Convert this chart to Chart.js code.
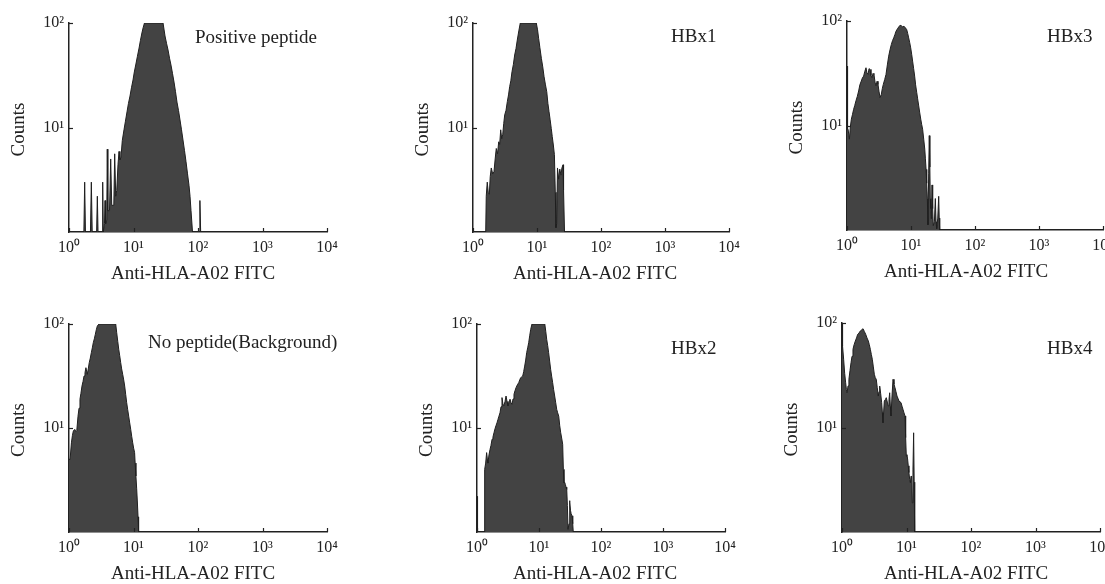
<!DOCTYPE html>
<html>
<head>
<meta charset="utf-8">
<script src="https://cdn.jsdelivr.net/npm/chart.js@4.4.1/dist/chart.umd.min.js"></script>
<style>
  body { margin: 0; background: #fff; }
  #wrap { position: relative; width: 1105px; height: 584px; overflow: hidden; }
  #wrap canvas { position: absolute; }
</style>
</head>
<body>
<div id="wrap"></div>
<script>
// Flow cytometry histograms: counts vs Anti-HLA-A02 FITC, log/log

const xTicks = [1, 10, 100, 1000, 10000];
const xTickLabels = ['10⁰', '10¹', '10²', '10³', '10⁴'];
const yTicks = [1, 10, 100];
const yTickLabels = ['', '10¹', '10²'];
const xTitle = 'Anti-HLA-A02 FITC';
const yTitle = 'Counts';

// [fluorescence, counts]
const positivePeptide = [
    [1, 1], [1.70, 1], [1.75, 3.0], [1.80, 1], [2.15, 1], [2.22, 3.0], [2.29, 1],
    [2.68, 1], [2.75, 2.2], [2.82, 1], [3.26, 1], [3.33, 3.0], [3.40, 1],
    [3.55, 1.2], [3.62, 2.0], [3.70, 1.2], [3.85, 1.3], [3.92, 6.2], [4.00, 1.6],
    [4.25, 1.6], [4.43, 5.0], [4.60, 1.8], [4.95, 1.8], [5.11, 5.6], [5.30, 2.2],
    [5.50, 2.5], [5.75, 4.4], [5.96, 5.9], [6.15, 4.9], [6.40, 5.2], [6.70, 7.5],
    [7.12, 9.5], [7.50, 11.5], [7.93, 14.1], [8.35, 17], [8.83, 20.0], [9.30, 24],
    [9.83, 28.5], [10.3, 34], [10.9, 40.5], [11.5, 48], [12.2, 57.6], [12.8, 68],
    [13.5, 80.2], [14.1, 90], [14.8, 100], [28.7, 100], [30.8, 75.1], [32.5, 64],
    [34.3, 55.2], [36.2, 46], [38.1, 39.6], [40.2, 33], [42.5, 27.2], [44.8, 22],
    [47.2, 17.5], [49.9, 14.5], [52.6, 11.8], [55.5, 9.5], [58.5, 7.6], [61.8, 6.0],
    [65.2, 4.7], [68.8, 3.6], [72.5, 2.8], [75.2, 2.2], [77.9, 1.6], [82.2, 1],
    [104, 1], [107, 2.0], [110, 1], [10000, 1]
];

const hbx1 = [
    [1, 1], [1.58, 1], [1.61, 2.2], [1.67, 3.0], [1.73, 2.4], [1.80, 2.3], [1.86, 3.4],
    [1.93, 4.1], [2.03, 3.6], [2.13, 3.8], [2.22, 5.0], [2.31, 6.3], [2.42, 5.6],
    [2.52, 7.3], [2.61, 6.9], [2.71, 9.5], [2.81, 7.8], [2.91, 8.5], [3.02, 10.9],
    [3.13, 13.2], [3.28, 14.6], [3.44, 17.7], [3.59, 20.5], [3.74, 24.6], [3.90, 28.0],
    [4.07, 34.2], [4.27, 40.0], [4.48, 49.4], [4.70, 57.0], [4.92, 68.7], [5.20, 84],
    [5.48, 100], [9.75, 100], [10.2, 86], [10.6, 71.4], [11.1, 58], [11.7, 45.9],
    [12.3, 38], [12.9, 30.6], [13.5, 26], [14.2, 22], [14.8, 17], [15.4, 14.2],
    [16.0, 12], [16.7, 9.8], [17.3, 8.2], [18.0, 6.8], [18.7, 5.5], [19.3, 2.4],
    [19.8, 1.1], [20.3, 1.2], [20.9, 4.1], [21.8, 3.2], [22.7, 4.0], [23.7, 3.5],
    [24.5, 4.1], [25.5, 4.4], [26.0, 2.5], [26.9, 1], [10000, 1]
];

const hbx3 = [
    [1.0, 37], [1.02, 9.2], [1.04, 9.2], [1.09, 7.4], [1.13, 9.8], [1.17, 11.5],
    [1.22, 12.8], [1.27, 14.3], [1.32, 15.5], [1.38, 17.2], [1.45, 19.0], [1.52, 21.4],
    [1.59, 24.5], [1.67, 26.6], [1.74, 28.5], [1.82, 29.7], [1.90, 33], [1.98, 35.7],
    [2.05, 32], [2.13, 30.8], [2.21, 35], [2.29, 34.4], [2.37, 30], [2.46, 28.6],
    [2.55, 31.5], [2.64, 30.8], [2.74, 26], [2.84, 23.9], [2.95, 26.5], [3.05, 24.7],
    [3.17, 21], [3.28, 18.5], [3.44, 19.9], [3.56, 22.5], [3.69, 24.7], [3.88, 27.5],
    [4.07, 30.8], [4.27, 38], [4.48, 46.1], [4.70, 53], [4.92, 59.4], [5.15, 65],
    [5.37, 68.9], [5.60, 74], [5.83, 79.8], [6.13, 84], [6.43, 87.7], [6.74, 91],
    [7.05, 90.2], [7.40, 88], [7.78, 89.1], [8.17, 86], [8.57, 82.7], [8.88, 76],
    [9.20, 68.9], [9.55, 62], [9.89, 55.3], [10.25, 48], [10.6, 41.3], [11.0, 35],
    [11.4, 29.7], [11.8, 24.5], [12.3, 20.6], [12.7, 18], [13.2, 15.4], [13.7, 13.2],
    [14.2, 11.5], [14.7, 10.2], [15.2, 9.2], [15.8, 7.4], [16.4, 5.95], [16.8, 4.8],
    [17.2, 3.8], [17.6, 2.8], [18.0, 2.0], [18.4, 1.12], [18.9, 3.5], [19.3, 8.0],
    [19.7, 4.0], [20.0, 2.0], [20.4, 1.6], [20.8, 1.28], [21.3, 2.7], [21.8, 1.6],
    [22.3, 1.1], [23.2, 1.2], [24.0, 2.0], [24.6, 1.2], [25.2, 1.03], [26.2, 1.3],
    [27.1, 2.1], [27.6, 1.3], [28.1, 1], [10000, 1]
];

const noPeptide = [
    [1.0, 5.0], [1.04, 5.0], [1.09, 7.2], [1.13, 8.5], [1.17, 9.4], [1.23, 9.7],
    [1.28, 9.2], [1.32, 9.4], [1.38, 13.0], [1.43, 15.5], [1.48, 18.9], [1.53, 21.5],
    [1.59, 25.3], [1.65, 28], [1.71, 31.6], [1.77, 34], [1.83, 38.0], [1.92, 32.8],
    [1.99, 37], [2.06, 42.5], [2.14, 47], [2.22, 53.0], [2.30, 59], [2.38, 66.1],
    [2.47, 72], [2.56, 79.6], [2.65, 88], [2.75, 95.7], [2.92, 100], [5.30, 100],
    [5.49, 82.5], [5.70, 68], [5.90, 57.1], [6.10, 50], [6.33, 42.5], [6.55, 37],
    [6.80, 32.8], [7.05, 29], [7.30, 25.3], [7.57, 21], [7.84, 17.5], [8.13, 15],
    [8.42, 13.0], [8.73, 11.2], [9.05, 9.7], [9.38, 8.3], [9.72, 7.2], [10.05, 6.4],
    [10.4, 5.8], [10.6, 4.6], [10.9, 3.45], [11.2, 2.6], [11.5, 1.9], [11.75, 1.4],
    [12.0, 1], [10000, 1]
];

const hbx2 = [
    [1.0, 2.2], [1.02, 1], [1.30, 1], [1.33, 4.0], [1.38, 4.6], [1.43, 5.8],
    [1.47, 5.0], [1.50, 4.6], [1.56, 5.5], [1.62, 6.2], [1.68, 6.8], [1.75, 7.8],
    [1.81, 8.2], [1.88, 9.0], [1.95, 9.8], [2.02, 10.5], [2.10, 11.2], [2.18, 12.1],
    [2.26, 13], [2.35, 14.0], [2.44, 16], [2.53, 19.6], [2.62, 17], [2.72, 16.3],
    [2.83, 18], [2.94, 20.3], [3.05, 18], [3.16, 16.3], [3.28, 17.5], [3.41, 18.9],
    [3.54, 17.5], [3.67, 16.9], [3.81, 19], [3.95, 21.1], [4.10, 22.8], [4.26, 24.4],
    [4.48, 26], [4.71, 27.3], [4.89, 29], [5.07, 30.5], [5.26, 31], [5.46, 31.6],
    [5.67, 35], [5.88, 39.4], [6.10, 45], [6.33, 53.0], [6.57, 59], [6.82, 66.1],
    [7.08, 77], [7.35, 88.9], [7.71, 100], [12.4, 100], [12.85, 85], [13.3, 71.3],
    [13.8, 62], [14.3, 53.0], [14.85, 44], [15.4, 36.7], [16.0, 31.5], [16.6, 27.3],
    [17.2, 23.5], [17.9, 20.3], [18.6, 17.5], [19.3, 15.1], [20.0, 14], [20.8, 13.0],
    [21.6, 10.5], [22.4, 9.0], [23.2, 8], [24.1, 6.97], [24.7, 4.0], [25.3, 2.98],
    [26.0, 3.0], [26.6, 2.87], [27.3, 2.7], [28.0, 2.57], [28.7, 1.8], [29.4, 1.06],
    [30.5, 1.2], [31.0, 2.0], [31.6, 1.91], [32.3, 1.6], [33.0, 1.5], [34.1, 1.43],
    [35.0, 1.2], [35.7, 1], [10000, 1]
];

const hbx4 = [
    [1.0, 100], [1.02, 60], [1.06, 45.0], [1.10, 33], [1.14, 26.8], [1.17, 23],
    [1.20, 21.5], [1.24, 25], [1.28, 28.9], [1.33, 35], [1.38, 41.7], [1.43, 48],
    [1.48, 56.0], [1.54, 62], [1.61, 67.2], [1.68, 72], [1.75, 77.9], [1.83, 80],
    [1.92, 83.8], [2.02, 86], [2.12, 88.2], [2.22, 83], [2.33, 77.9], [2.44, 72],
    [2.56, 67.2], [2.65, 62], [2.75, 56.0], [2.85, 50], [2.95, 45.0], [3.06, 38],
    [3.17, 32.3], [3.28, 30], [3.40, 28.9], [3.52, 24], [3.65, 20.0], [3.75, 22],
    [3.84, 24.9], [3.98, 21], [4.12, 17.3], [4.22, 14], [4.32, 11.1], [4.42, 14],
    [4.53, 17.9], [4.70, 18.5], [4.86, 19.3], [5.04, 17.5], [5.22, 16.1], [5.35, 18.5],
    [5.49, 21.5], [5.62, 16], [5.75, 12.9], [5.96, 20], [6.18, 28.9], [6.40, 26],
    [6.63, 24.0], [6.87, 22], [7.12, 20.0], [7.38, 19], [7.65, 17.9], [7.93, 17.6],
    [8.22, 17.3], [8.52, 16], [8.83, 14.9], [9.15, 13.8], [9.48, 12.9], [9.70, 8],
    [9.93, 5.3], [10.15, 5.5], [10.4, 5.0], [10.65, 4.3], [10.9, 3.7], [11.2, 3.2],
    [11.5, 2.96], [11.75, 3.43], [12.0, 3.4], [12.3, 1.9], [12.6, 4], [12.9, 8.9],
    [13.15, 3], [13.4, 1], [10000, 1]
];

// canvas box + where the plot area should land (page px)
const panels = [
    { data: positivePeptide, label: 'Positive peptide', box: [0, 0, 370, 292], area: [69, 23, 327, 232], labelAt: [126, 15], titleDx: 124 },
    { data: hbx1, label: 'HBx1', box: [380, 0, 370, 292], area: [473, 23, 729, 232], labelAt: [198, 14], titleDx: 122 },
    { data: hbx3, label: 'HBx3', box: [755, 0, 350, 292], area: [847, 21, 1103, 230], labelAt: [200, 16], titleDx: 119 },
    { data: noPeptide, label: 'No peptide(Background)', box: [0, 292, 370, 292], area: [69, 324, 327, 532], labelAt: [79, 19], titleDx: 124 },
    { data: hbx2, label: 'HBx2', box: [380, 292, 370, 292], area: [477, 324, 725, 532], labelAt: [194, 25], titleDx: 118 },
    { data: hbx4, label: 'HBx4', box: [755, 292, 350, 292], area: [842, 323, 1100, 532], labelAt: [205, 26], titleDx: 124 }
];

const Y_AXIS_W = 30;
const X_AXIS_H = 26;
const SERIF = '"Liberation Serif", "Times New Roman", serif';

Chart.defaults.font.family = SERIF;
Chart.defaults.color = '#222';

// panel texts + small inward tick marks
const panelText = {
    id: 'panelText',
    afterDraw(chart, args, opts) {
        const { ctx, chartArea } = chart;
        const xs = chart.scales.x;
        const ys = chart.scales.y;
        ctx.save();
        ctx.strokeStyle = '#222';
        ctx.lineWidth = 1.2;
        xTicks.forEach(v => {
            const px = Math.round(xs.getPixelForValue(v)) + 0.5;
            ctx.beginPath();
            ctx.moveTo(px, chartArea.bottom);
            ctx.lineTo(px, chartArea.bottom - 4);
            ctx.stroke();
        });
        yTicks.slice(1).forEach(v => {
            const py = Math.round(ys.getPixelForValue(v)) + 0.5;
            ctx.beginPath();
            ctx.moveTo(chartArea.left, py);
            ctx.lineTo(chartArea.left + 4, py);
            ctx.stroke();
        });

        ctx.fillStyle = '#222';
        ctx.font = '19px ' + SERIF;
        ctx.textBaseline = 'middle';
        ctx.textAlign = 'left';
        ctx.fillText(opts.label, chartArea.left + opts.labelAt[0], chartArea.top + opts.labelAt[1]);

        ctx.textAlign = 'center';
        ctx.textBaseline = 'alphabetic';
        ctx.fillText(xTitle, chartArea.left + opts.titleDx, chartArea.bottom + 47);

        ctx.translate(chartArea.left - 45, (chartArea.top + chartArea.bottom) / 2 + 2);
        ctx.rotate(-Math.PI / 2);
        ctx.textBaseline = 'alphabetic';
        ctx.fillText(yTitle, 0, 0);
        ctx.restore();
    }
};

const wrap = document.getElementById('wrap');

panels.forEach(p => {
    const [bx, by, bw, bh] = p.box;
    const [L, T, R, B] = p.area;
    const canvas = document.createElement('canvas');
    canvas.width = bw;
    canvas.height = bh;
    canvas.style.left = bx + 'px';
    canvas.style.top = by + 'px';
    canvas.style.width = bw + 'px';
    canvas.style.height = bh + 'px';
    wrap.appendChild(canvas);

    new Chart(canvas.getContext('2d'), {
        type: 'line',
        data: {
            datasets: [{
                data: p.data.map(d => ({ x: d[0], y: d[1] })),
                borderColor: '#1f1f1f',
                backgroundColor: '#434343',
                borderWidth: 1,
                pointRadius: 0,
                tension: 0,
                fill: 'start'
            }]
        },
        options: {
            responsive: false,
            animation: false,
            devicePixelRatio: 1,
            layout: {
                padding: {
                    left: L - bx - Y_AXIS_W,
                    top: T - by,
                    right: bx + bw - R,
                    bottom: by + bh - B - X_AXIS_H
                }
            },
            plugins: {
                legend: { display: false },
                tooltip: { enabled: false },
                panelText: { label: p.label, labelAt: p.labelAt, titleDx: p.titleDx }
            },
            scales: {
                x: {
                    type: 'logarithmic',
                    min: 1,
                    max: 10000,
                    z: 1,
                    grid: { display: false, drawTicks: false },
                    border: { display: true, color: '#222', width: 1.5 },
                    afterBuildTicks: s => { s.ticks = xTicks.map(v => ({ value: v })); },
                    afterFit: s => { s.height = X_AXIS_H; s.paddingLeft = 0; s.paddingRight = 0; },
                    ticks: {
                        autoSkip: false,
                        maxRotation: 0,
                        padding: 6,
                        font: { size: 16 },
                        color: '#222',
                        callback: (v, i) => xTickLabels[i]
                    }
                },
                y: {
                    type: 'logarithmic',
                    min: 1,
                    max: 100,
                    z: 1,
                    grid: { display: false, drawTicks: false },
                    border: { display: true, color: '#222', width: 1.5 },
                    afterBuildTicks: s => { s.ticks = yTicks.map(v => ({ value: v })); },
                    afterFit: s => { s.width = Y_AXIS_W; s.paddingTop = 0; s.paddingBottom = 0; },
                    ticks: {
                        autoSkip: false,
                        padding: 5,
                        font: { size: 16 },
                        color: '#222',
                        callback: (v, i) => yTickLabels[i]
                    }
                }
            }
        },
        plugins: [panelText]
    });
});
</script>
</body>
</html>
